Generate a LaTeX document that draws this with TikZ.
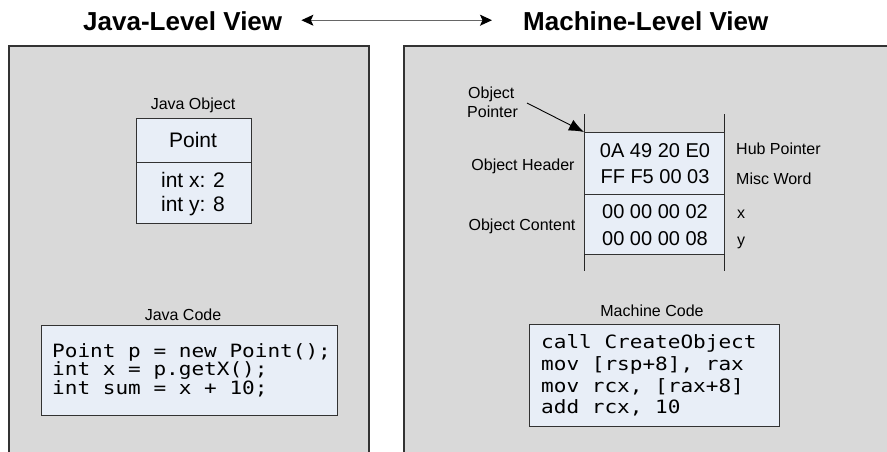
\documentclass[tikz,border=0pt]{standalone}
\usepackage{fontspec}
\setmainfont{Liberation Sans}
\newfontfamily\codefont{DejaVu Sans Mono}[FakeStretch=1.15]
\usetikzlibrary{arrows.meta}
\definecolor{panelgray}{RGB}{217,217,217}
\definecolor{boxblue}{RGB}{232,238,247}
\definecolor{edgegray}{RGB}{50,50,50}

\begin{document}
\begin{tikzpicture}[x=1pt,y=-1pt,
  panel/.style={draw=black!80, line width=1.5pt, fill=panelgray},
  cell/.style={draw=edgegray, line width=1pt, fill=boxblue, inner sep=0pt, outer sep=0pt},
  title/.style={font=\fontsize{26}{30}\selectfont\bfseries, inner sep=0pt},
  label/.style={font=\fontsize{16}{19}\selectfont, inner sep=0pt},
  field/.style={font=\fontsize{21}{25}\selectfont, inner sep=0pt},
  hexval/.style={font=\fontsize{20}{24}\selectfont, inner sep=0pt, anchor=base},
  note/.style={font=\fontsize{16}{19}\selectfont, inner sep=0pt, anchor=base west},
  codeline/.style={font=\codefont\fontsize{18.3}{21}\selectfont, inner sep=0pt, anchor=base west},
]
\useasboundingbox (0,0) rectangle (887,451);

% background panels (run off the page at the bottom and right)
\begin{scope}
  \clip (0,0) rectangle (887,451);
  \path[panel] (9,46) rectangle (369,470);
  \path[panel] (404,46) rectangle (900,470);
\end{scope}

% headings and the two-way arrow between them
\node[title, anchor=base west] (jtitle) at (83,30) {Java-Level View};
\node[title, anchor=base west] (mtitle) at (523,30) {Machine-Level View};
\draw[black!60, line width=1.2pt,
      {Stealth[length=12pt,width=11pt,inset=2.5pt,black]}-{Stealth[length=12pt,width=11pt,inset=2.5pt,black]}]
  ([xshift=19pt,yshift=0.5pt]jtitle.east) -- ([xshift=-31pt,yshift=0.5pt]mtitle.west);

% ---- Java-level side ----
\node[label, anchor=base] (jobjlbl) at (193,109) {Java Object};
\node[cell, minimum width=115pt, minimum height=44pt, anchor=north west] (jhead) at (136,118) {};
\node[cell, minimum width=115pt, minimum height=61pt, anchor=north] (jbody) at (jhead.south) {};
\node[field, anchor=base] (jname) at (193,147) {Point};
\node[field, anchor=base] (jx) at (193,187) {int x: 2};
\node[field, anchor=base] (jy) at (193,211) {int y: 8};

\node[label, anchor=base] (jcodelbl) at (183,320) {Java Code};
\node[cell, minimum width=296pt, minimum height=90pt, anchor=north west] (jcode) at (41,325) {};
\node[codeline] (jc1) at (52,357) {Point p = new Point();};
\node[codeline] (jc2) at (52,375.5) {int x = p.getX();};
\node[codeline] (jc3) at (52,394) {int sum = x + 10;};

% ---- machine-level side ----
\node[note] (ptrA) at (468,98) {Object};
\node[note] (ptrB) at (467,117) {Pointer};
\coordinate (ptrtail) at (527,103);

\node[cell, minimum width=140pt, minimum height=62pt, anchor=north west] (mhead) at (584,132) {};
\node[cell, minimum width=140pt, minimum height=60pt, anchor=north] (mbody) at (mhead.south) {};
\draw[black!85, line width=1pt] (mhead.north west) -- ++(0,-18);
\draw[black!85, line width=1pt] (mhead.north east) -- ++(0,-18);
\draw[black!85, line width=1pt] (mbody.south west) -- ++(0,17);
\draw[black!85, line width=1pt] (mbody.south east) -- ++(0,17);
\draw[black, line width=0.9pt, -{Latex[length=15pt,width=12pt]}] (ptrtail) -- (mhead.north west);

\node[hexval] (h1) at (655,157) {0A 49 20 E0};
\node[hexval] (h2) at (655,183) {FF F5 00 03};
\node[hexval] (h3) at (655,218) {00 00 00 02};
\node[hexval] (h4) at (655,245) {00 00 00 08};

\node[label, anchor=base] (hdrlbl) at (523,170) {Object Header};
\node[label, anchor=base] (cntlbl) at (522,230) {Object Content};

\node[note] (hub) at (736,154) {Hub Pointer};
\node[note] (misc) at (736,184) {Misc Word};
\node[note] (fx) at (737,218) {x};
\node[note] (fy) at (737,245) {y};

\node[label, anchor=base] (mcodelbl) at (652,316) {Machine Code};
\node[cell, minimum width=250pt, minimum height=102pt, anchor=north west] (mcode) at (529,324) {};
\node[codeline] (mc1) at (541,348) {call CreateObject};
\node[codeline] (mc2) at (541,370.5) {mov [rsp+8], rax};
\node[codeline] (mc3) at (541,392) {mov rcx, [rax+8]};
\node[codeline] (mc4) at (541,413) {add rcx, 10};
\end{tikzpicture}
\end{document}
